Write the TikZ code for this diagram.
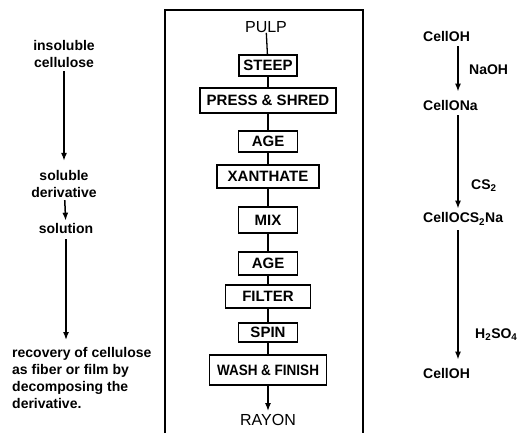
\documentclass[tikz,border=0pt]{standalone}
\usepackage{fontspec}
\setmainfont{Liberation Sans}
\usetikzlibrary{arrows.meta}
\begin{document}
\begin{tikzpicture}[x=1pt,y=-1pt,
  stage/.style={draw,line width=1.3pt,inner sep=0pt,font=\fontsize{15}{18}\selectfont\bfseries},
  ends/.style={inner sep=0pt,font=\fontsize{16}{18}\selectfont},
  side/.style={inner sep=1pt,align=center,font=\fontsize{14}{17.5}\selectfont\bfseries},
  chem/.style={inner sep=0pt,anchor=west,font=\fontsize{14}{17}\selectfont\bfseries},
  link/.style={line width=1.3pt},
  arr/.style={line width=1.5pt,-{Latex[length=8pt,width=6pt]}}
]
\useasboundingbox (0,0) rectangle (521,433);
% frame
\draw[line width=1.5pt] (165,433) -- (165,10) -- (363,10) -- (363,433);

% centre column
\node[ends] (pulp) at (266,27) {PULP};
\node[stage,minimum width=58pt,minimum height=21pt] (steep) at (268,65.5) {STEEP};
\node[stage,minimum width=136pt,minimum height=25pt] (press) at (268,100.5) {PRESS \& SHRED};
\node[stage,minimum width=59pt,minimum height=21pt] (age1) at (268,141.5) {AGE};
\node[stage,minimum width=102pt,minimum height=23pt] (xan) at (268,176.5) {XANTHATE};
\node[stage,minimum width=59pt,minimum height=26pt] (mix) at (268,220) {MIX};
\node[stage,minimum width=59pt,minimum height=23pt] (age2) at (268,263.5) {AGE};
\node[stage,minimum width=85pt,minimum height=23pt] (filter) at (268,296.5) {FILTER};
\node[stage,minimum width=59pt,minimum height=19pt] (spin) at (268,332.5) {SPIN};
\node[stage,minimum width=117pt,minimum height=30pt] (wash) at (268,370) {\scalebox{0.9}[1]{WASH \& FINISH}};
\node[ends] (rayon) at (268,420) {RAYON};

\draw[link] (pulp) -- (steep);
\draw[link] (steep) -- (press);
\draw[link] (press) -- (age1);
\draw[link] (age1) -- (xan);
\draw[link] (xan) -- (mix);
\draw[link] (mix) -- (age2);
\draw[link] (age2) -- (filter);
\draw[link] (filter) -- (spin);
\draw[link] (spin) -- (wash);
\draw[arr,shorten >=3pt] (wash) -- (rayon);

% left column
\node[side] (ins) at (64,54) {insoluble\\cellulose};
\node[side] (sd) at (64,184) {soluble\\derivative};
\node[side] (soln) at (66,228) {solution};
\node[side,anchor=north west,align=left,inner sep=0pt,font=\fontsize{14}{17}\selectfont\bfseries] (rec) at (12,347)
  {recovery of cellulose\\as fiber or film by\\decomposing the\\derivative.};
\draw[arr,shorten <=2pt,shorten >=8pt] (ins) -- (sd);
\draw[arr,shorten <=1pt,shorten >=1pt] (sd) -- (soln);
\draw[arr,shorten <=5pt,shorten >=7pt] (soln.south) -- (soln.south |- rec.north);

% right column
\coordinate (ax) at (458,0);
\node[chem] (c1) at (423,36) {CellOH};
\node[chem] (c2) at (423,105) {CellONa};
\node[chem] (c3) at (423,219) {CellOCS\textsubscript{2}Na};
\node[chem] (c4) at (423,373) {CellOH};
\draw[arr,shorten <=5pt,shorten >=8pt] (c1.south -| ax) -- (c2.north -| ax);
\draw[arr,shorten <=5pt,shorten >=4pt] (c2.south -| ax) -- (c3.north -| ax);
\draw[arr,shorten <=5pt,shorten >=8pt] (c3.south -| ax) -- (c4.north -| ax);
\node[chem] (l1) at (469,70) {NaOH};
\node[chem] (l2) at (471,186) {CS\textsubscript{2}};
\node[chem] (l3) at (475,335) {H\textsubscript{2}SO\textsubscript{4}};
\end{tikzpicture}
\end{document}
